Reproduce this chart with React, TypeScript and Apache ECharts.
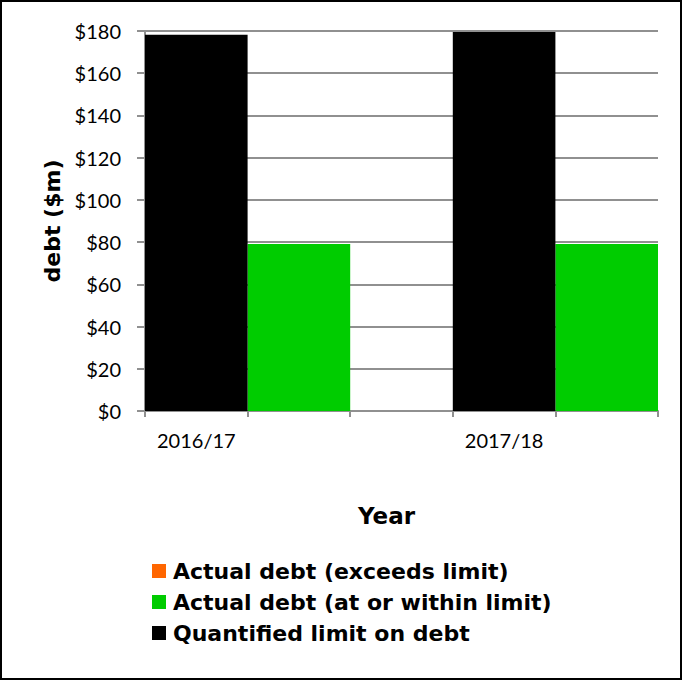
import React, { useEffect, useRef } from "react";
import * as echarts from "echarts";

const years = ["2016/17", "2017/18"];
const exceedsValues = [0, 0];
const withinValues = [79.1, 79.1];
const limitValues = [178.2, 179.5];
const yTickValues = [0, 20, 40, 60, 80, 100, 120, 140, 160, 180];

const seriesNames = [
  "Actual debt (exceeds limit)",
  "Actual debt (at or within limit)",
  "Quantified limit on debt",
];

export default function App() {
  const ref = useRef<HTMLDivElement>(null);
  useEffect(() => {
    if (!ref.current) return;
    const chart = echarts.init(ref.current, null, { renderer: "svg" });

    // slot layout: limit bar, actual bar, gap between years
    const slots: string[] = [];
    const limitData: any[] = [];
    const withinData: any[] = [];
    const exceedsData: any[] = [];
    years.forEach((y, i) => {
      slots.push(y);
      limitData.push(limitValues[i]);
      withinData.push("-");
      exceedsData.push("-");
      slots.push(y + " actual");
      limitData.push("-");
      withinData.push(withinValues[i]);
      exceedsData.push(exceedsValues[i]);
      if (i < years.length - 1) {
        slots.push("gap " + i);
        limitData.push("-");
        withinData.push("-");
        exceedsData.push("-");
      }
    });

    const tickFont = "Lato, sans-serif";
    const boldFont = "'DejaVu Sans', sans-serif";
    const gray = "#909090";

    chart.setOption({
      animation: false,
      textStyle: { fontFamily: tickFont },
      graphic: [
        {
          type: "rect",
          shape: { x: 1, y: 1, width: 680, height: 678 },
          style: { fill: "none", stroke: "#000", lineWidth: 2 },
          silent: true,
        },
      ],
      grid: { left: 145, right: 25, top: 31, bottom: 270 },
      legend: {
        orient: "vertical",
        left: 147,
        top: 555,
        itemWidth: 14,
        itemHeight: 14,
        itemGap: 9,
        icon: "rect",
        data: seriesNames,
        textStyle: {
          fontFamily: boldFont,
          fontSize: 22,
          fontWeight: "bold",
          color: "#000",
          lineHeight: 22,
          padding: [0, 0, 0, 2],
        },
      },
      xAxis: {
        type: "category",
        data: slots,
        name: "Year",
        nameLocation: "middle",
        nameGap: 93,
        nameTextStyle: {
          fontFamily: boldFont,
          fontSize: 23,
          fontWeight: "bold",
          color: "#000",
          padding: [0, 30, 0, 0],
        },
        axisLine: { lineStyle: { color: gray, width: 2 } },
        axisTick: { show: true, interval: 0, length: 6, lineStyle: { color: gray, width: 2 } },
        axisLabel: {
          interval: 0,
          margin: 19,
          fontSize: 20,
          color: "#000",
          fontFamily: tickFont,
          formatter: (v: string) => (years.includes(v) ? v : ""),
        },
        splitLine: { show: false },
      },
      yAxis: {
        type: "value",
        min: yTickValues[0],
        max: yTickValues[yTickValues.length - 1],
        interval: 20,
        name: "debt ($m)",
        nameLocation: "middle",
        nameGap: 79,
        nameTextStyle: { fontFamily: boldFont, fontSize: 22, fontWeight: "bold", color: "#000" },
        axisLine: { show: true, lineStyle: { color: gray, width: 2 } },
        axisTick: { show: true, length: 8, lineStyle: { color: gray, width: 2 } },
        axisLabel: {
          fontSize: 20,
          color: "#000",
          fontFamily: tickFont,
          margin: 24,
          formatter: (v: number) => "$" + v,
        },
        splitLine: { lineStyle: { color: gray, width: 2 } },
      },
      series: [
        {
          name: seriesNames[0],
          type: "bar",
          stack: "debt",
          data: exceedsData,
          barCategoryGap: "0%",
          itemStyle: { color: "#FF6600" },
        },
        {
          name: seriesNames[1],
          type: "bar",
          stack: "debt",
          data: withinData,
          barCategoryGap: "0%",
          itemStyle: { color: "#00CC00" },
        },
        {
          name: seriesNames[2],
          type: "bar",
          stack: "debt",
          data: limitData,
          barCategoryGap: "0%",
          itemStyle: { color: "#000000" },
        },
      ],
    });
    return () => chart.dispose();
  }, []);
  return (
    <div
      ref={ref}
      style={{ position: "fixed", left: 0, top: 0, width: 683, height: 681, background: "#fff" }}
    />
  );
}
